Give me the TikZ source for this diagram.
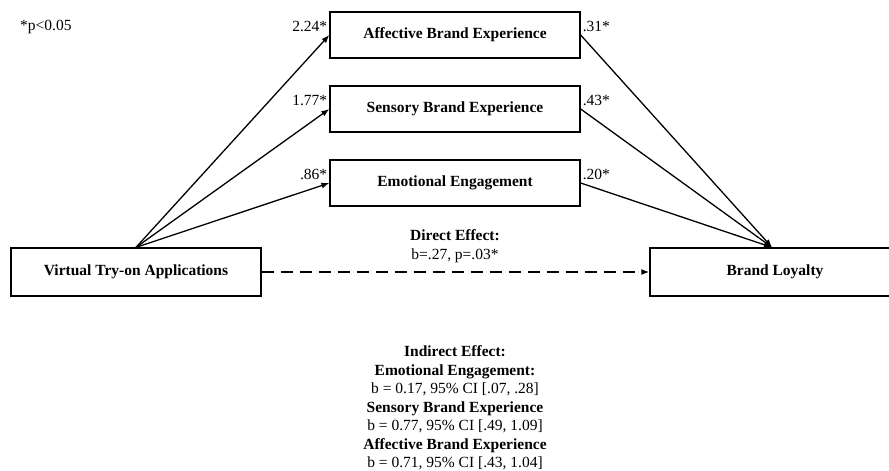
\documentclass[tikz,border=0pt]{standalone}
\usepackage{fontspec}
\setmainfont{Liberation Serif}
\usetikzlibrary{arrows.meta}

\begin{document}
\begin{tikzpicture}[
  x=1pt, y=-1pt,
  box/.style={draw, rectangle, line width=1.3pt, align=center,
              minimum width=250pt, minimum height=46pt, inner sep=4pt,
              font=\fontsize{15.5}{18.5}\selectfont\bfseries},
  endbox/.style={box, minimum height=48pt},
  coef/.style={font=\fontsize{15.5}{18.5}\selectfont, inner sep=0pt},
  note/.style={font=\fontsize{15.5}{18.5}\selectfont, align=center, inner sep=0pt},
  link/.style={->, line width=1.3pt},
  >={Latex[length=8pt,width=6pt]}
]
\useasboundingbox (0,0) rectangle (889,471);

% ---- Significance note ----
\node[coef, anchor=west] (sig) at (20, 27) {*p<0.05};

% ---- Mediators ----
\node[box] (aff) at (455, 35) {Affective Brand Experience};
\node[box] (sen) at (455, 109) {Sensory Brand Experience};
\node[box] (emo) at (455, 183) {Emotional Engagement};

% ---- Predictor and outcome ----
\node[endbox] (vto) at (136, 272) {Virtual Try-on Applications};
\node[endbox] (loy) at (775, 272) {Brand Loyalty};

% ---- Paths a ----
\draw[link] (vto.north) -- (aff.west);
\draw[link] (vto.north) -- (sen.west);
\draw[link] (vto.north) -- (emo.west);

% ---- Paths b ----
\draw[link] (aff.east) -- ([xshift=-3pt]loy.north);
\draw[link] (sen.east) -- ([xshift=-3pt]loy.north);
\draw[link] (emo.east) -- ([xshift=-3pt]loy.north);

% ---- Direct effect ----
\draw[link, line width=1.5pt, dash pattern=on 12pt off 7pt] (vto.east) -- (loy.west);

% ---- Coefficients ----
\node[coef, anchor=base east] (a1) at ([xshift=-2pt, yshift=4pt]aff.west) {2.24*};
\node[coef, anchor=base east] (a2) at ([xshift=-2pt, yshift=4pt]sen.west) {1.77*};
\node[coef, anchor=base east] (a3) at ([xshift=-2pt, yshift=4pt]emo.west) {.86*};
\node[coef, anchor=base west] (b1) at ([xshift=2pt, yshift=4pt]aff.east) {.31*};
\node[coef, anchor=base west] (b2) at ([xshift=2pt, yshift=4pt]sen.east) {.43*};
\node[coef, anchor=base west] (b3) at ([xshift=2pt, yshift=4pt]emo.east) {.20*};

% ---- Effect texts ----
\node[note] (direct) at (455, 246) {\textbf{Direct Effect:}\\b=.27, p=.03*};
\node[note] (indirect) at (455, 408) {
  \textbf{Indirect Effect:}\\
  \textbf{Emotional Engagement:}\\
  b = 0.17, 95\% CI [.07, .28]\\
  \textbf{Sensory Brand Experience}\\
  b = 0.77, 95\% CI [.49, 1.09]\\
  \textbf{Affective Brand Experience}\\
  b = 0.71, 95\% CI [.43, 1.04]
};

\end{tikzpicture}
\end{document}
